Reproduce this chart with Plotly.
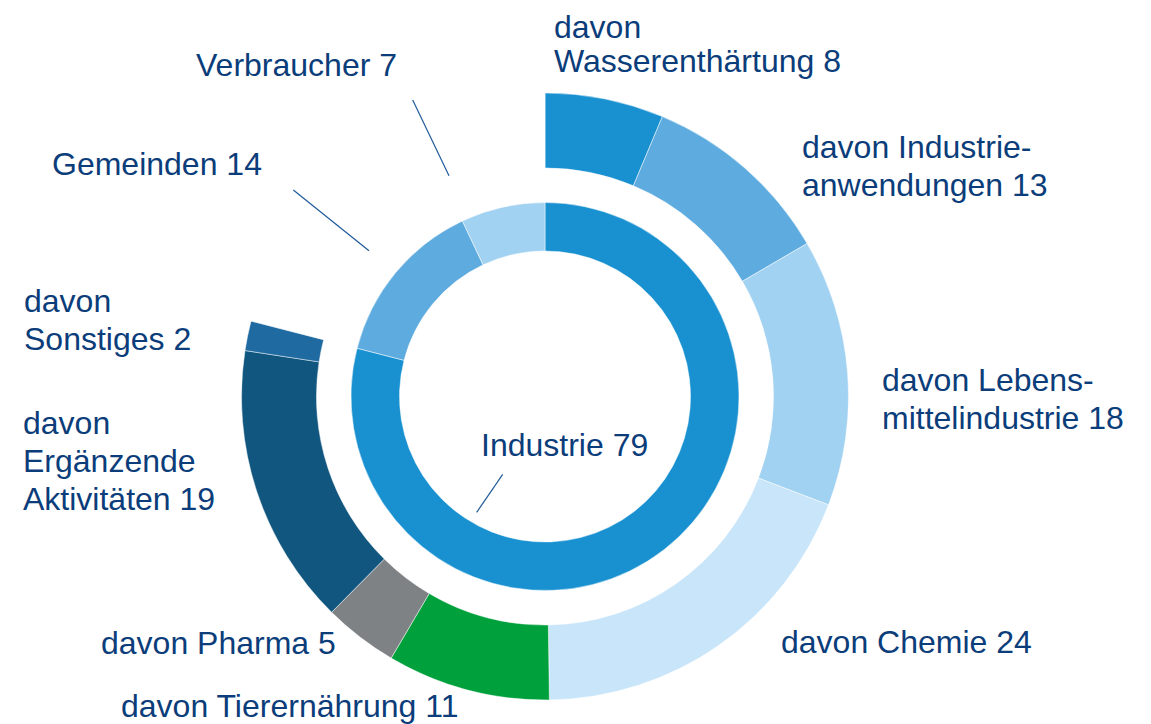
import plotly.graph_objects as go

# inner ring: customer groups (share in %)
inner_labels = ["Industrie", "Gemeinden", "Verbraucher"]
inner_values = [79, 14, 7]
inner_colors = ["#1991d0", "#5eabdf", "#a2d2f2"]

# outer ring: breakdown of Industrie (share in %)
outer_labels = ["Wasserenthärtung", "Industrieanwendungen", "Lebensmittelindustrie", "Chemie",
                "Tierernährung", "Pharma", "Ergänzende Aktivitäten", "Sonstiges"]
outer_values = [8, 13, 18, 24, 11, 5, 19, 2]
outer_colors = ["#1991d0", "#5eabdf", "#a2d2f2", "#c8e5f9",
                "#00a03c", "#7f8285", "#11567e", "#1f6aa0"]

# label texts as printed (line breaks as in the original)
inner_text = ["Industrie", "Gemeinden", "Verbraucher"]
outer_text = ["davon<br>Wasserenthärtung", "davon Industrie-<br>anwendungen", "davon Lebens-<br>mittelindustrie",
              "davon Chemie", "davon Tierernährung", "davon Pharma",
              "davon<br>Ergänzende<br>Aktivitäten", "davon<br>Sonstiges"]

W, H = 1151, 724
PAGE_MARGIN = 8  # the html body margin shifts the figure on the page
TEXT_COLOR = "#0b3d7a"
FONT = "Arial, Liberation Sans, sans-serif"
FONT_SIZE = 32


def px(x):
    return (x - PAGE_MARGIN) / W


def py(y):
    return 1 - (y - PAGE_MARGIN) / H


def domain(cx, cy, r):
    return dict(x=[px(cx - r), px(cx + r)], y=[py(cy + r), py(cy - r)])


cx, cy = 545, 396.5

# outer ring only covers the Industrie share of the circle
industrie_share = inner_values[0] / sum(inner_values)
gap = sum(outer_values) * (1 - industrie_share) / industrie_share

fig = go.Figure()

fig.add_trace(go.Pie(
    labels=outer_labels + ["_rest"],
    values=outer_values + [gap],
    marker=dict(colors=outer_colors + ["rgba(0,0,0,0)"],
                line=dict(color="rgba(255,255,255,0.6)", width=0.8)),
    hole=0.753,
    sort=False,
    direction="clockwise",
    rotation=0,
    textinfo="none",
    hoverinfo="label+value",
    domain=domain(cx, cy, 303.5),
    showlegend=False,
))

fig.add_trace(go.Pie(
    labels=inner_labels,
    values=inner_values,
    marker=dict(colors=inner_colors,
                line=dict(color="rgba(255,255,255,0.6)", width=0.8)),
    hole=0.75,
    sort=False,
    direction="clockwise",
    rotation=0,
    textinfo="none",
    hoverinfo="label+value",
    domain=domain(cx, cy, 194),
    showlegend=False,
))

# label placement: left edge and baseline of every line, in page pixels
outer_pos = [(552, [38, 72]), (800, [158.3, 196.7]), (879.7, [391, 429]), (778.7, [653.3]),
             (118.7, [717.3]), (98.7, [654.3]), (21, [434, 472.7, 510.7]), (22, [312.7, 350])]
inner_pos = [(479.3, [456.7]), (50, [175]), (194, [76])]

annotations = []
for t, v, (x, baselines) in zip(outer_text + inner_text, outer_values + inner_values, outer_pos + inner_pos):
    lines = f"{t} {v}".split("<br>")
    for line, b in zip(lines, baselines):
        annotations.append(dict(
            text=line, x=px(x), y=py(b - 0.358 * FONT_SIZE),
            xref="paper", yref="paper", xanchor="left", yanchor="middle",
            align="left", showarrow=False,
            font=dict(family=FONT, size=FONT_SIZE, color=TEXT_COLOR),
        ))

# leader lines
leaders = [((412.7, 100), (449, 175.7)),
           ((293.3, 190), (369, 250.7)),
           ((502.7, 474.3), (476.7, 512.3))]
shapes = [dict(type="line", xref="paper", yref="paper",
               x0=px(a[0]), y0=py(a[1]), x1=px(b[0]), y1=py(b[1]),
               line=dict(color="#1f5a9a", width=1.2))
          for a, b in leaders]

fig.update_layout(
    width=W,
    height=H,
    margin=dict(l=0, r=0, t=0, b=0),
    paper_bgcolor="white",
    plot_bgcolor="white",
    annotations=annotations,
    shapes=shapes,
)

fig.write_html("out.html")
